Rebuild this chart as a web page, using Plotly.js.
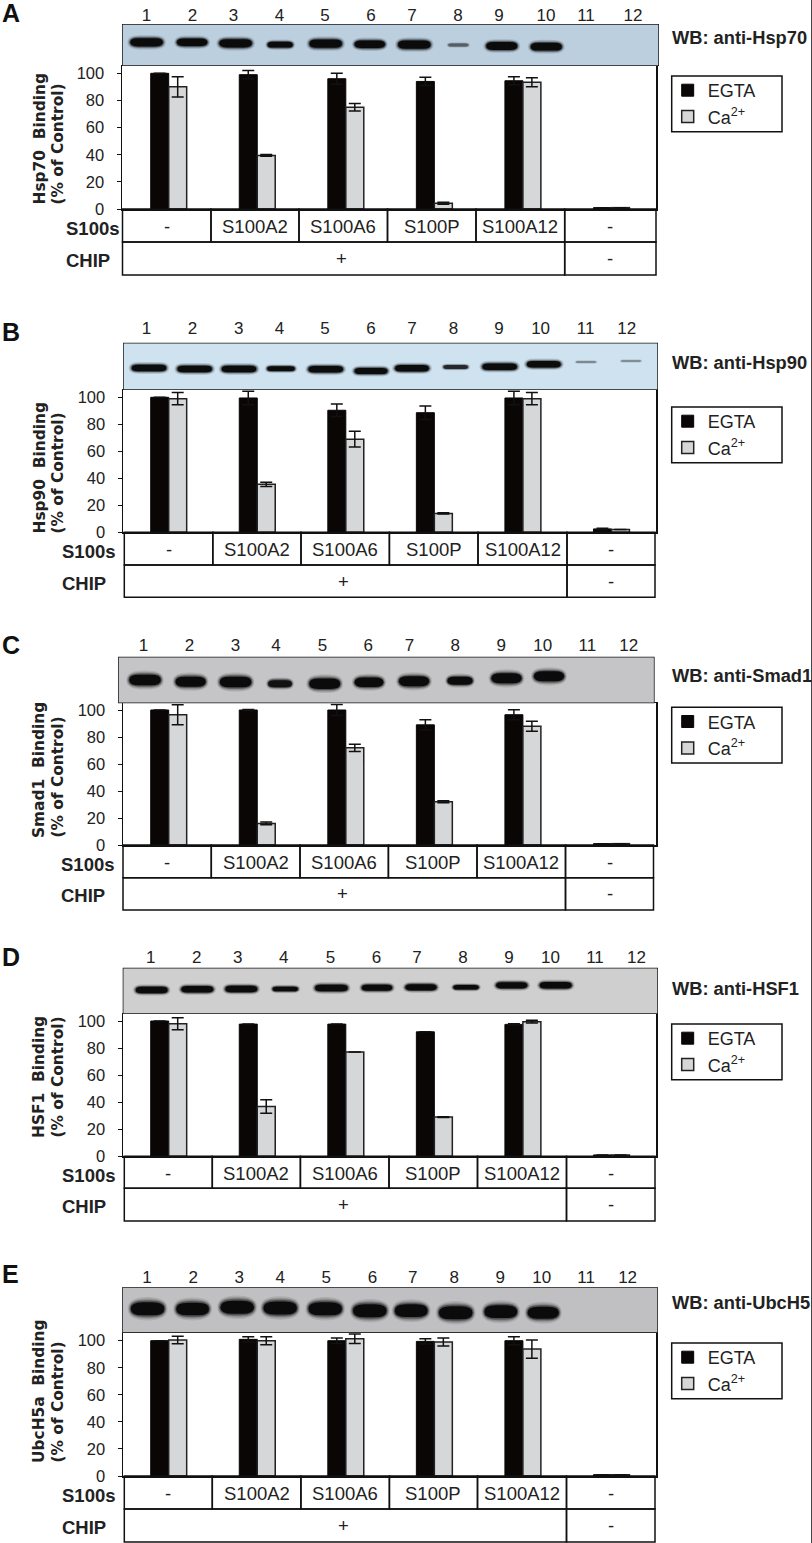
<!DOCTYPE html>
<html>
<head>
<meta charset="utf-8">
<script src="https://cdn.plot.ly/plotly-3.0.1.min.js"></script>
<style>html,body{margin:0;padding:0;background:#fff;overflow:hidden}</style>
</head>
<body>
<div id="plot"></div>
<script>
// values, % of control
var groups = [0, 1, 2, 3, 4, 5];
var s100Labels = ['-', 'S100A2', 'S100A6', 'S100P', 'S100A12', '-'];
var chipLabels = ['+', '-'];
var laneNames = ['1', '2', '3', '4', '5', '6', '7', '8', '9', '10', '11', '12'];
var panelLetters = ['A', 'B', 'C', 'D', 'E'];
var proteins = ['Hsp70', 'Hsp90', 'Smad1', 'HSF1', 'UbcH5a'];
var blotNames = ['Hsp70', 'Hsp90', 'Smad1', 'HSF1', 'UbcH5'];

var egtaA = [100, 99, 96, 94, 94.5, 1];
var egtaErrA = [0, 3, 4, 3, 3, 0];
var caA = [90, 39.5, 75, 4.2, 93.4, 1];
var caErrA = [7.4, 0.7, 2.7, 0.7, 3.4, 0];

var egtaB = [100, 99.5, 90.4, 88.6, 99.5, 2.5];
var egtaErrB = [0, 5, 4.6, 5, 5, 0.5];
var caB = [99, 35.5, 69, 14, 99, 2];
var caErrB = [4.5, 1.6, 5.8, 0.4, 4.5, 0];

var egtaC = [100, 100, 100, 89, 96.5, 1];
var egtaErrC = [0, 0.3, 4, 3.8, 3.7, 0];
var caC = [96.5, 16, 72, 32, 88, 1];
var caErrC = [7.4, 1, 2.7, 0.7, 3.7, 0];

var egtaD = [100, 97.7, 97.7, 92, 97.5, 1];
var egtaErrD = [0, 0, 0, 0, 0.5, 0];
var caD = [98, 36.8, 77, 29, 99.5, 1];
var caErrD = [4.4, 5, 0, 0.3, 1, 0];

var egtaE = [100, 101, 100, 99.5, 100, 1];
var egtaErrE = [0, 2, 2, 2, 3, 0];
var caE = [100.5, 100, 101.5, 99, 93.8, 1];
var caErrE = [2.7, 3, 3.5, 3, 6.8, 0];

// band strength per lane on each blot, 0 = nothing there
var bandA = [1, .85, 1, .5, 1, .85, 1, .15, .9, .9, 0, 0];
var bandB = [1, 1, 1, .55, 1, .9, .95, .35, 1, .95, .07, .06];
var bandC = [1, .9, 1, .45, .95, .8, .9, .55, .9, .9, 0, 0];
var bandD = [.95, .95, .95, .5, 1, .85, .9, .5, .9, .95, 0, 0];
var bandE = [1, .95, 1, 1, 1, 1, .95, 1, .95, .85, 0, 0];

// where the bands sit on each blot (blot axes count image pixels)
var bandXA = [146.6, 192.1, 235.6, 280.2, 325.7, 369.8, 414.3, 458.3, 501.8, 546.3, 586, 633];
var bandYA = [42.3, 42.3, 43.3, 44.7, 43.7, 44.3, 44.7, 45, 46, 46.7, 45, 45];
var bandXB = [149, 194.7, 239, 281, 325.7, 371, 412, 455.7, 499.7, 543.8, 586, 631];
var bandYB = [368, 369, 369, 368.7, 369.3, 371, 368.3, 367, 366.7, 364.3, 362, 361];
var bandXC = [145, 190.6, 235.6, 280, 324.7, 369, 414, 460, 506.5, 549, 587, 629];
var bandYC = [680, 681.7, 682, 683.7, 683.7, 682.3, 681.3, 680.7, 678.3, 676.3, 680, 680];
var bandXD = [151.7, 197.3, 241.3, 285.3, 331.4, 377, 421, 466, 511.7, 555.7, 595, 636];
var bandYD = [990, 989.3, 989, 989, 988, 987.7, 987.3, 987.3, 985.3, 985.3, 987, 987];
var bandXE = [147.6, 192.6, 237.2, 280.2, 325.2, 369.8, 411.2, 455.7, 500.8, 543.2, 586, 627];
var bandYE = [1308.7, 1309, 1307.3, 1308, 1308.7, 1310.7, 1310.7, 1312.7, 1311.7, 1312.7, 1310, 1310];

var laneXA = [146.6, 192.6, 233.6, 279.6, 325, 371, 412, 458, 499, 546, 586, 633];
var laneXB = [146.6, 192.6, 238.7, 279.6, 325, 371, 412, 453.6, 499, 540.6, 585.7, 626.7];
var laneXC = [143.4, 189.5, 235.6, 276, 322.6, 368.2, 409.6, 455.2, 501.3, 542.7, 587.3, 628.7];
var laneXD = [150.7, 196.8, 237.7, 283.8, 330.4, 376.5, 416.9, 463, 509, 550.5, 595, 636.5];
var laneXE = [147, 193.2, 239.3, 280.2, 326.3, 372.4, 412.7, 454.2, 500.3, 541.7, 586.2, 627.6];

var egta = [egtaA, egtaB, egtaC, egtaD, egtaE];
var egtaErr = [egtaErrA, egtaErrB, egtaErrC, egtaErrD, egtaErrE];
var ca = [caA, caB, caC, caD, caE];
var caErr = [caErrA, caErrB, caErrC, caErrD, caErrE];
var band = [bandA, bandB, bandC, bandD, bandE];
var bandX = [bandXA, bandXB, bandXC, bandXD, bandXE];
var bandY = [bandYA, bandYB, bandYC, bandYD, bandYE];
var laneX = [laneXA, laneXB, laneXC, laneXD, laneXE];

// page layout in image pixels
var W = 812, H = 1543;
var barX0 = 168.7, barStep = 88.55;
var geom = [
  {letterY: 13, gel: [122, 659, 24, 66], color: '#bccfdf', y100: 73.3, y0: 209, frame: [122, 656], rows: [242, 275], tbl: [122.5, 656], cuts: [211, 299, 387.5, 476, 564.7], leg: 76, wb: 37, textBottom: 207, rowX: 64, gap: -1, bandW: 34, bandH: 10},
  {letterY: 332, gel: [123, 658, 342.7, 390], color: '#cfe2f0', y100: 397.3, y0: 532.3, frame: [123, 656], rows: [565, 597.3], tbl: [124.3, 655], cuts: [212.8, 301, 389.4, 478, 567], leg: 407, wb: 362.7, textBottom: 536, rowX: 60, gap: 4, bandW: 36, bandH: 8},
  {letterY: 645, gel: [118, 654.6, 656.7, 703.3], color: '#c5c5c7', y100: 710, y0: 845, frame: [123, 656], rows: [877.7, 910], tbl: [123, 653.5], cuts: [211.3, 300, 388.4, 477, 565.5], leg: 707.3, wb: 675, textBottom: 840, rowX: 58.6, gap: 1, bandW: 33, bandH: 13},
  {letterY: 957, gel: [122.7, 658, 967.7, 1014], color: '#cfcfcf', y100: 1021, y0: 1156.3, frame: [123, 656], rows: [1188.3, 1221], tbl: [124.3, 655], cuts: [212.3, 300.4, 389, 477.5, 566.5], leg: 1024, wb: 988.7, textBottom: 1140, rowX: 59.6, gap: 0, bandW: 34, bandH: 8},
  {letterY: 1274, gel: [122, 658, 1287.3, 1332.7], color: '#c0c0c2', y100: 1340.7, y0: 1476, frame: [123, 656], rows: [1509, 1542], tbl: [124.3, 655], cuts: [212.3, 300.9, 389.4, 477.5, 566.5], leg: 1343, wb: 1302.7, textBottom: 1465, rowX: 59.6, gap: 0, bandW: 35, bandH: 16}
];

function px(x) { return x / W; }
function py(y) { return 1 - y / H; }

var ink = '#111111';
var data = [];
var layout = {
  width: W, height: H, autosize: false,
  margin: {l: 0, r: 0, t: 0, b: 0},
  paper_bgcolor: '#ffffff', plot_bgcolor: 'rgba(0,0,0,0)',
  barmode: 'group', bargap: 0.594, bargroupgap: 0,
  font: {family: 'Liberation Sans, Arial, sans-serif', color: '#222222', size: 16},
  hovermode: false,
  shapes: [], annotations: []
};

function addLabel(x, y, text, opts) {
  layout.annotations.push(Object.assign({
    xref: 'paper', yref: 'paper', x: px(x), y: py(y), text: text,
    showarrow: false, xanchor: 'center', yanchor: 'middle',
    font: {size: 18.5, color: '#222222'}
  }, opts || {}));
}

function addBox(x0, x1, y0, y1) {
  layout.shapes.push({type: 'rect', xref: 'paper', yref: 'paper',
    x0: px(x0), x1: px(x1), y0: py(y0), y1: py(y1),
    line: {color: ink, width: 1.5}, fillcolor: 'rgba(0,0,0,0)'});
}

// capsule outline for a gel band, in blot axis units
function capsule(cx, cy, w, h) {
  var l = cx - w / 2, r = cx + w / 2, t = cy - h / 2, b = cy + h / 2;
  var c = Math.min(w / 2, h * 0.9);
  return 'M' + (l + c) + ',' + t + ' L' + (r - c) + ',' + t +
    ' Q' + r + ',' + t + ' ' + r + ',' + cy + ' Q' + r + ',' + b + ' ' + (r - c) + ',' + b +
    ' L' + (l + c) + ',' + b + ' Q' + l + ',' + b + ' ' + l + ',' + cy + ' Q' + l + ',' + t + ' ' + (l + c) + ',' + t + ' Z';
}

geom.forEach(function (g, i) {
  var barAx = 2 * i + 1, gelAx = 2 * i + 2;
  var suffix = function (n) { return n === 1 ? '' : String(n); };
  var legendId = 'legend' + suffix(i + 1);

  // bar subplot
  data.push({
    type: 'bar', name: 'EGTA', x: groups, y: egta[i],
    xaxis: 'x' + suffix(barAx), yaxis: 'y' + suffix(barAx), legend: legendId,
    offsetgroup: 'egta',
    marker: {color: '#0a0606', line: {color: '#0a0606', width: 1}},
    error_y: {type: 'data', array: egtaErr[i], visible: true, color: ink, thickness: 1.5, width: 6}
  });
  data.push({
    type: 'bar', name: 'Ca<sup>2+</sup>', x: groups, y: ca[i],
    xaxis: 'x' + suffix(barAx), yaxis: 'y' + suffix(barAx), legend: legendId,
    offsetgroup: 'ca',
    marker: {color: '#d6d7d8', line: {color: '#222222', width: 1.5}},
    error_y: {type: 'data', array: caErr[i], visible: true, color: ink, thickness: 1.5, width: 6}
  });

  layout['xaxis' + suffix(barAx)] = {
    domain: [px(g.frame[0]), px(g.frame[1])],
    range: [(g.frame[0] - barX0) / barStep, (g.frame[1] - barX0) / barStep],
    anchor: 'y' + suffix(barAx),
    showticklabels: false, ticks: '', showgrid: false, zeroline: false,
    showline: true, mirror: true, linecolor: ink, linewidth: 1.5
  };
  layout['yaxis' + suffix(barAx)] = {
    domain: [py(g.y0), py(g.gel[3])],
    range: [0, (g.y0 - g.gel[3]) / (g.y0 - g.y100) * 100],
    anchor: 'x' + suffix(barAx),
    tickmode: 'array', tickvals: [0, 20, 40, 60, 80, 100],
    ticks: 'outside', ticklen: 4, tickwidth: 1, tickcolor: ink,
    ticklabelstandoff: 9, tickfont: {size: 16.5, color: '#222222'},
    showgrid: false, zeroline: false,
    showline: true, mirror: true, linecolor: ink, linewidth: 1.5
  };

  // blot subplot: invisible trace carries the lane axis, bands are capsules on it
  data.push({
    type: 'scatter', mode: 'markers', x: bandX[i], y: bandY[i],
    xaxis: 'x' + suffix(gelAx), yaxis: 'y' + suffix(gelAx),
    marker: {size: 1, opacity: 0}, showlegend: false, hoverinfo: 'skip'
  });
  layout['xaxis' + suffix(gelAx)] = {
    domain: [px(g.gel[0]), px(g.gel[1])],
    range: [g.gel[0], g.gel[1]],
    anchor: 'y' + suffix(gelAx), side: 'top',
    tickmode: 'array', tickvals: laneX[i], ticktext: laneNames,
    ticks: '', ticklabelstandoff: g.gap, tickfont: {size: 17, color: '#222222'},
    showgrid: false, zeroline: false, showline: false
  };
  layout['yaxis' + suffix(gelAx)] = {
    domain: [py(g.gel[3]), py(g.gel[2])],
    range: [g.gel[3], g.gel[2]],
    anchor: 'x' + suffix(gelAx),
    showticklabels: false, ticks: '', showgrid: false, zeroline: false, showline: false
  };
  layout.shapes.push({type: 'rect', layer: 'below',
    xref: 'x' + suffix(gelAx), yref: 'y' + suffix(gelAx),
    x0: g.gel[0], x1: g.gel[1], y0: g.gel[2], y1: g.gel[3],
    line: {color: '#1a1a1a', width: 1.5}, fillcolor: g.color});

  band[i].forEach(function (s, lane) {
    if (!s) return;
    var w = g.bandW * (0.55 + 0.45 * s), h = g.bandH * Math.max(Math.sqrt(s) * 0.95, 0.3);
    var dark = Math.min(1, 0.15 + 1.7 * s);
    // soft edge from a few stacked capsules
    [[1.14, 1.55, 0.1], [1.09, 1.35, 0.14], [1.05, 1.18, 0.2], [1.01, 1.05, 0.35], [0.96, 0.86, 0.95]].forEach(function (lay) {
      layout.shapes.push({type: 'path',
        xref: 'x' + suffix(gelAx), yref: 'y' + suffix(gelAx),
        path: capsule(bandX[i][lane], bandY[i][lane], w * lay[0], h * lay[1]),
        line: {width: 0}, fillcolor: '#070707', opacity: dark * lay[2]});
    });
  });

  // condition table under the bars
  var edges = [g.tbl[0]].concat(g.cuts, [g.tbl[1]]);
  for (var c = 0; c < 6; c++) {
    addBox(edges[c], edges[c + 1], g.y0, g.rows[0]);
    addLabel((edges[c] + edges[c + 1]) / 2, (g.y0 + g.rows[0]) / 2 + 1, s100Labels[c]);
  }
  addBox(g.tbl[0], g.cuts[4], g.rows[0], g.rows[1]);
  addBox(g.cuts[4], g.tbl[1], g.rows[0], g.rows[1]);
  addLabel((g.tbl[0] + g.cuts[4]) / 2 - 2, (g.rows[0] + g.rows[1]) / 2, chipLabels[0]);
  addLabel((g.cuts[4] + g.tbl[1]) / 2, (g.rows[0] + g.rows[1]) / 2, chipLabels[1]);

  addLabel(g.rowX, (g.y0 + g.rows[0]) / 2 + 3, '<b>S100s</b>', {xanchor: 'left'});
  addLabel(g.rowX, (g.rows[0] + g.rows[1]) / 2 + 2, '<b>CHIP</b>', {xanchor: 'left'});

  addLabel(0, g.letterY, '<b>' + panelLetters[i] + '</b>', {xanchor: 'left', font: {size: 25, color: '#111111'}});
  addLabel(670, g.wb, '<b>WB: anti-' + blotNames[i] + '</b>', {xanchor: 'left', font: {size: 18.3, color: '#222222'}});

  // y title set by hand, the two lines share a bottom edge as in the figure
  var titleFont = {family: 'DejaVu Sans', size: 15.4, color: '#222222'};
  addLabel(39, g.textBottom, '<b>' + proteins[i] + '\u00a0\u00a0Binding</b>', {textangle: -90, yanchor: 'bottom', font: titleFont});
  addLabel(57, g.textBottom, '<b>(% of Control)</b>', {textangle: -90, yanchor: 'bottom', font: titleFont});

  // legend frame is its own box so the height can match the figure
  addBox(671.7, 782, g.leg, g.leg + 55.7);
  layout[legendId] = {
    x: px(671.7), y: py(g.leg - 4), xanchor: 'left', yanchor: 'top',
    bgcolor: 'rgba(0,0,0,0)', borderwidth: 0, indentation: -4,
    font: {size: 18, color: '#222222'}, traceorder: 'normal',
    itemclick: false, itemdoubleclick: false
  };
});

layout.shapes.push({type: 'line', xref: 'paper', yref: 'paper', x0: px(811.5), x1: px(811.5), y0: 0, y1: 1,
  line: {color: '#444444', width: 1}});

Plotly.newPlot('plot', data, layout, {displayModeBar: false, staticPlot: true});
</script>
</body>
</html>
